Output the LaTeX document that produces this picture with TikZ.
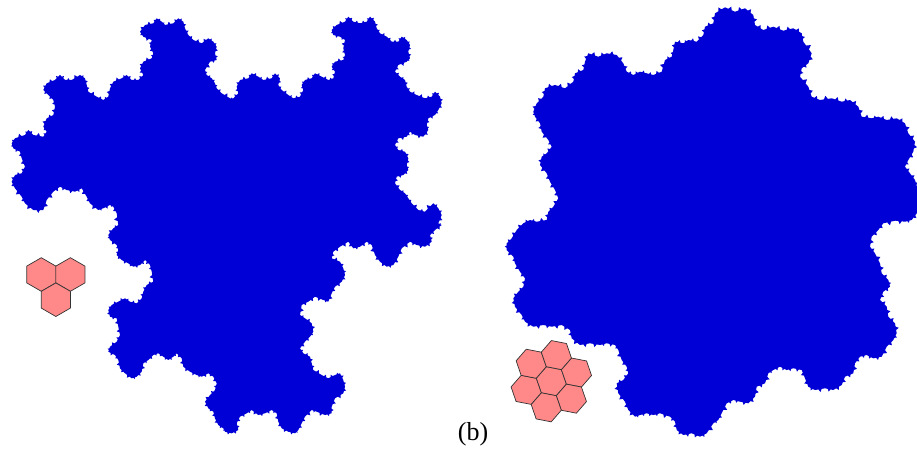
\documentclass[tikz,border=0pt]{standalone}
\usepackage{fontspec}
\setmainfont{Liberation Serif}
\usetikzlibrary{calc,decorations.fractals}
\definecolor{tileblue}{RGB}{0,0,214}
\definecolor{hexpink}{RGB}{255,136,136}
\begin{document}
\begin{tikzpicture}[x=1pt,y=-1pt,
  tile/.style={fill=tileblue,draw=none,decorate,decoration={Koch snowflake}},
  hexcell/.style={fill=hexpink,draw=black!80,line width=0.7pt,line join=round},
  lbl/.style={font=\fontsize{26}{30}\selectfont,inner sep=0pt,anchor=base}]
\useasboundingbox (0,0) rectangle (917,449);
\fill[white] (0,0) rectangle (917,449);
% left tile
\path[tile] (43.3,210) -- (33.3,210) -- (25,203.3) -- (21.7,196.7) -- (15,188.3) -- (11.7,181.7) -- (15,175) -- (21.7,173.3) -- (25,166.7) -- (21.7,158.3) -- (20,151.7) -- (13.3,148.3) -- (11.7,143.3) -- (15,138.3) -- (25,135) -- (28.3,130) -- (33.3,135) -- (43.3,136.7) -- (46.7,131.7) -- (43.3,126.7) -- (46.7,118.3) -- (53.3,115) -- (55,106.7) -- (53.3,100) -- (48.3,95) -- (43.3,90) -- (46.7,83.3) -- (55,80) -- (60,75) -- (65,80) -- (71.7,80) -- (80,75) -- (85,78.3) -- (86.7,85) -- (88.3,91.7) -- (96.7,96.7) -- (103.3,100) -- (108.3,96.7) -- (110,88.3) -- (113.3,81.7) -- (121.7,78.3) -- (126.7,75) -- (131.7,80) -- (138.3,80) -- (143.3,75) -- (140,68.3) -- (143.3,61.7) -- (151.7,58.3) -- (153.3,53.3) -- (150,46.7) -- (151.7,40) -- (143.3,36.7) -- (140,31.7) -- (145,25) -- (153.3,23.3) -- (156.7,18.3) -- (161.7,21.7) -- (165,25) -- (173.3,23.3) -- (178.3,18.3) -- (183.3,21.7) -- (185,28.3) -- (188.3,35) -- (193.3,40) -- (201.7,43.3) -- (208.3,38.3) -- (213.3,41.7) -- (216.7,46.7) -- (215,53.3) -- (216.7,60) -- (210,61.7) -- (205,70) -- (206.7,75) -- (211.7,78.3) -- (215,83.3) -- (216.7,88.3) -- (221.7,93.3) -- (230,98.3)
 -- (233.3,98.3) -- (238.3,93.3) -- (236.7,86.7) -- (240,80) -- (248.3,78.3) -- (251.7,73.3) -- (258.3,76.7) -- (263.3,80) -- (271.7,78.3) -- (275,73.3) -- (280,78.3) -- (278.3,85) -- (281.7,90) -- (288.3,95) -- (293.3,98.3) -- (300,96.7) -- (303.3,90) -- (301.7,85) -- (305,80) -- (311.7,78.3) -- (315,73.3) -- (321.7,76.7) -- (328.3,80) -- (333.3,78.3) -- (335,71.7) -- (331.7,66.7) -- (335,61.7) -- (343.3,60) -- (345,55) -- (343.3,48.3) -- (345,40) -- (340,36.7) -- (333.3,35) -- (331.7,30) -- (336.7,25) -- (345,21.7) -- (348.3,16.7) -- (353.3,21.7) -- (360,23.3) -- (366.7,21.7) -- (370,16.7) -- (375,21.7) -- (376.7,28.3) -- (380,33.3) -- (386.7,36.7) -- (391.7,41.7) -- (398.3,41.7) -- (401.7,36.7) -- (406.7,40) -- (410,45) -- (408.3,51.7) -- (410,58.3) -- (406.7,61.7) -- (398.3,65) -- (395,71.7) -- (400,76.7) -- (405,80) -- (406.7,86.7) -- (410,91.7) -- (416.7,95) -- (425,98.3) -- (431.7,96.7) -- (435,91.7) -- (440,96.7) -- (441.7,103.3) -- (438.3,110) -- (435,115) -- (428.3,118.3) -- (426.7,125) -- (428.3,130) -- (423.3,136.7) -- (415,135) -- (410,131.7) -- (406.7,136.7) -- (398.3,138.3) -- (395,145) -- (398.3,150) -- (405,151.7) -- (408.3,158.3) -- (406.7,165) -- (408.3,170) -- (403.3,175) -- (396.7,176.7) -- (395,183.3) -- (400,190) -- (405,193.3) -- (408.3,198.3) -- (411.7,203.3) -- (418.3,210) -- (425,211.7) -- (433.3,203.3) -- (438.3,208.3) -- (441.7,215) -- (438.3,223.3)
 -- (441.7,225) -- (435,230) -- (430,235) -- (431.7,241.7) -- (425,246.7) -- (416.7,245) -- (410,241.7) -- (401.7,248.3) -- (398.3,256.7) -- (393.3,265) -- (386.7,266.7) -- (380,261.7) -- (375,255) -- (371.7,245) -- (366.7,241.7) -- (360,246.7) -- (353.3,248.3) -- (348.3,241.7) -- (340,246.7) -- (333.3,251.7) -- (331.7,258.3) -- (340,261.7) -- (343.3,268.3) -- (345,275) -- (341.7,281.7) -- (335,286.7) -- (331.7,293.3) -- (328.3,301.7) -- (323.3,300) -- (315,296.7) -- (308.3,301.7) -- (301.7,305) -- (300,315) -- (305,318.3) -- (311.7,323.3) -- (313.3,331.7) -- (310,336.7) -- (305,341.7) -- (300,348.3) -- (303.3,353.3) -- (310,356.7) -- (311.7,363.3) -- (313.3,370) -- (321.7,375) -- (328.3,378.3) -- (335,375) -- (340,373.3) -- (343.3,380) -- (345,386.7) -- (343.3,393.3) -- (335,398.3) -- (331.7,406.7) -- (331.7,413.3) -- (325,415) -- (316.7,411.7) -- (311.7,410) -- (305,416.7) -- (301.7,423.3) -- (298.3,430) -- (295,433.3) -- (288.3,431.7) -- (281.7,428.3) -- (278.3,421.7) -- (276.7,413.3) -- (271.7,410) -- (265,413.3) -- (258.3,415) -- (251.7,410) -- (246.7,413.3) -- (240,416.7) -- (236.7,423.3) -- (238.3,430) -- (231.7,433.3) -- (225,431.7)
 -- (223.3,428.3) -- (218.3,425) -- (215,418.3) -- (213.3,411.7) -- (208.3,408.3) -- (205,401.7) -- (210,395) -- (215,390) -- (216.7,383.3) -- (213.3,376.7) -- (208.3,373.3) -- (201.7,376.7) -- (196.7,375) -- (190,371.7) -- (183.3,366.7) -- (181.7,358.3) -- (176.7,353.3) -- (173.3,356.7) -- (168.3,360) -- (163.3,356.7) -- (158.3,353.3) -- (153.3,355) -- (148.3,360) -- (143.3,363.3) -- (141.7,371.7) -- (136.7,376.7) -- (131.7,378.3) -- (125,373.3) -- (120,368.3) -- (118.3,360) -- (115,355) -- (108.3,351.7) -- (110,346.7) -- (116.7,341.7) -- (120,335) -- (118.3,326.7) -- (116.7,318.3) -- (110,316.7) -- (108.3,310) -- (111.7,305) -- (118.3,301.7) -- (125,298.3) -- (130,301.7) -- (136.7,303.3) -- (141.7,298.3) -- (143.3,291.7) -- (146.7,285) -- (153.3,281.7) -- (151.7,271.7) -- (150,265) -- (145,260) -- (140,265) -- (133.3,266.7) -- (128.3,263.3) -- (121.7,260) -- (116.7,255) -- (118.3,250) -- (116.7,245) -- (110,240) -- (108.3,235) -- (113.3,228.3) -- (118.3,225)
 -- (116.7,213.3) -- (113.3,206.7) -- (110,205) -- (103.3,208.3) -- (98.3,210) -- (90,203.3) -- (86.7,196.7) -- (81.7,188.3) -- (75,191.7) -- (66.7,190) -- (60,186.7) -- (53.3,191.7) -- (46.7,200) -- cycle;
% right tile
\path[tile] (705,26.7) -- (713.3,23.3) -- (715,13.3) -- (725,7.3) -- (735,11.7) -- (745,8.3) -- (753.3,15) -- (755,25) -- (763.3,30) -- (773.3,26.7) -- (783.3,30.7) -- (793.3,28.3) -- (801.7,33.3) -- (803.3,41.7) -- (811.7,53.3) -- (808.3,63.3) -- (801.7,68.3) -- (800,76.7) -- (808.3,86.7) -- (811.7,96.7) -- (820,100) -- (831.7,98.3) -- (841.7,101.7) -- (850,100) -- (858.3,106.7) -- (861.7,116.7) -- (871.7,118.3) -- (878.3,116.7) -- (886.7,120) -- (896.7,118.3) -- (905,123.3) -- (908.3,133.3) -- (915,141.7) -- (913.3,151.7) -- (908.3,160) -- (905,166.7) -- (910,173.3) -- (915,180) -- (917,187) -- (917,193.5) -- (917,200) -- (917,206.5) -- (917,213) -- (911.7,220) -- (905,221.7) -- (895,220.7) -- (883.3,223.3) -- (878.3,230) -- (871.7,236.7) -- (870,246.7) -- (875,253.3) -- (880,263.3) -- (881.7,273.3) -- (888.3,280) -- (890,286.7) -- (883.3,291.7) -- (880,300) -- (886.7,306.7) -- (888.3,316.7) -- (895,323.3) -- (896.7,333.3) -- (893.3,340) -- (886.7,346.7) -- (881.7,356.7) -- (873.3,358.3) -- (866.7,355) -- (860,356.7) -- (855,363.3) -- (853.3,373.3) -- (845,376.7) -- (841.7,385) -- (833.3,390) -- (825,388.3) -- (815,390) -- (808.3,386.7) -- (805,378.3) -- (801.7,370) -- (793.3,368.3) -- (786.7,370) -- (780,366.7) -- (773.3,370) -- (768.3,373.3) -- (765,383.3) -- (756.7,386.7) -- (755,396.7) -- (748.3,403.3) -- (740,401.7) -- (733.3,400) -- (726.7,403.3) -- (721.7,413.3) -- (718.3,420) -- (713.3,423.3) -- (706.7,433.3) -- (700,436.7) -- (691.7,433.3) -- (683.3,435) -- (676.7,430) -- (675,421.7) -- (670,416.7) -- (660,413.3) -- (653.3,415) -- (646.7,413.3) -- (640,415) -- (635,416.7) -- (628.3,410) -- (625,401.7) -- (618.3,393.3) -- (616.7,383.3) -- (623.3,380) -- (628.3,373.3) -- (626.7,366.7) -- (621.7,360) -- (618.3,350) -- (615,345) -- (606.7,343.3) -- (600,345) -- (590,343.3) -- (580,345) -- (571.7,338.3) -- (570,330) -- (561.7,325) -- (551.7,326.7) -- (543.3,325) -- (533.3,326.7) -- (525,321.7) -- (521.7,315) -- (515,306.7) -- (513.3,298.3) -- (518.3,291.7) -- (523.3,286.7) -- (525,278.3) -- (520,271.7) -- (515,263.3) -- (513.3,256.7) -- (506.7,250) -- (506.7,243.3) -- (511.7,238.3) -- (516.7,230) -- (523.3,223.3) -- (530,220) -- (536.7,221.7) -- (546.7,220) -- (548.3,211.7) -- (553.3,206.7) -- (558.3,198.3) -- (555,190) -- (550,181.7) -- (546.7,173.3) -- (540,165) -- (541.7,156.7) -- (546.7,153.3) -- (551.7,146.7) -- (548.3,140) -- (541.7,131.7) -- (540,123.3) -- (535,116.7) -- (533.3,111.7) -- (536.7,103.3) -- (543.3,96.7) -- (545,88.3) -- (555,85) -- (565,88.3) -- (573.3,81.7) -- (575,73.3) -- (583.3,70) -- (585,61.7) -- (588.3,53.3) -- (598.3,56.7) -- (606.7,53.3) -- (616.7,55) -- (623.3,63.3) -- (626.7,71.7) -- (633.3,75) -- (640,71.7) -- (646.7,73.3) -- (653.3,75) -- (661.7,71.7) -- (665,60) -- (671.7,56.7) -- (673.3,50) -- (675,41.7) -- (683.3,43.3) -- (688.3,40) -- (696.7,41.7) -- (703.3,35) -- cycle;
% three-hexagon icon
\foreach \cx/\cy in {41.3/274.5, 70.4/274.5, 55.85/299.7}
  \path[hexcell] (\cx,\cy) +(30:16.8) -- +(90:16.8) -- +(150:16.8) -- +(210:16.8) -- +(270:16.8) -- +(330:16.8) -- cycle;
% seven-hexagon icon
\coordinate (c7) at (551.3,381.2);
\path[hexcell] (c7) +(11:15.36) -- +(71:15.36) -- +(131:15.36) -- +(191:15.36) -- +(251:15.36) -- +(311:15.36) -- cycle;
\foreach \a in {-19,41,101,161,221,281}
  \path[hexcell] ($(c7)+(\a:26.6)$) +(11:15.36) -- +(71:15.36) -- +(131:15.36) -- +(191:15.36) -- +(251:15.36) -- +(311:15.36) -- cycle;
\node[lbl] (lab) at (473,440) {(b)};
\end{tikzpicture}
\end{document}
